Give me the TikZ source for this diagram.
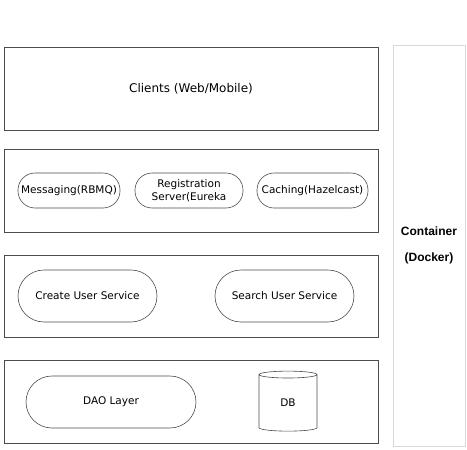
\documentclass[tikz,border=0pt]{standalone}
\usepackage{fontspec}
\setmainfont{DejaVu Sans}
\newfontfamily\arialfont{Liberation Sans}
\usepackage{tikz}
\usetikzlibrary{shapes,positioning}

\begin{document}
\begin{tikzpicture}[
    x=1pt, y=-1pt,
    layer/.style={rectangle, draw=black!70, line width=0.8pt, minimum width=374pt, inner sep=0pt},
    pill/.style={rectangle, draw=black!70, line width=0.6pt, inner sep=0pt, text centered, font=\fontsize{10.5}{12.5}\selectfont},
    dbstore/.style={cylinder, shape border rotate=90, draw=black!70, line width=0.6pt, aspect=0.45, inner sep=0pt, font=\fontsize{10.5}{12.5}\selectfont},
    container/.style={rectangle, draw=black!15, line width=0.8pt, minimum width=72pt, minimum height=401pt, align=center, font=\arialfont\bfseries\fontsize{12}{26}\selectfont}
]
\useasboundingbox (0,0) rectangle (467,450);

% Layers
\node[layer, minimum height=83pt, font=\fontsize{12}{14}\selectfont] (clients) at (191,88.5) {Clients (Web/Mobile)};
\node[layer, minimum height=83pt] (infra) at (191,190.5) {};
\node[layer, minimum height=82pt] (services) at (191,296) {};
\node[layer, minimum height=83pt] (data) at (191,401.5) {};

% Container
\node[container] (docker) at (429,245.5) {Container\\(Docker)};

% Infrastructure
\node[pill, minimum width=102pt, minimum height=35pt, rounded corners=17pt] (messaging) at (69,190.5) {Messaging(RBMQ)};
\node[pill, minimum width=108pt, minimum height=35pt, rounded corners=17pt, text width=100pt] (registry) at (189,190.5) {Registration\\Server(Eureka};
\node[pill, minimum width=111pt, minimum height=35pt, rounded corners=17pt] (caching) at (312.5,190.5) {Caching(Hazelcast)};

% Services
\node[pill, minimum width=139pt, minimum height=52pt, rounded corners=26pt] (create) at (87.5,296) {Create User Service};
\node[pill, minimum width=139pt, minimum height=52pt, rounded corners=26pt] (search) at (284.5,296) {Search User Service};

% Data access
\node[pill, minimum width=170pt, minimum height=52pt, rounded corners=26pt] (dao) at (111,402) {DAO Layer};
\node[dbstore, minimum width=58pt, minimum height=60pt] (db) at (288,403) {DB};

\end{tikzpicture}
\end{document}
